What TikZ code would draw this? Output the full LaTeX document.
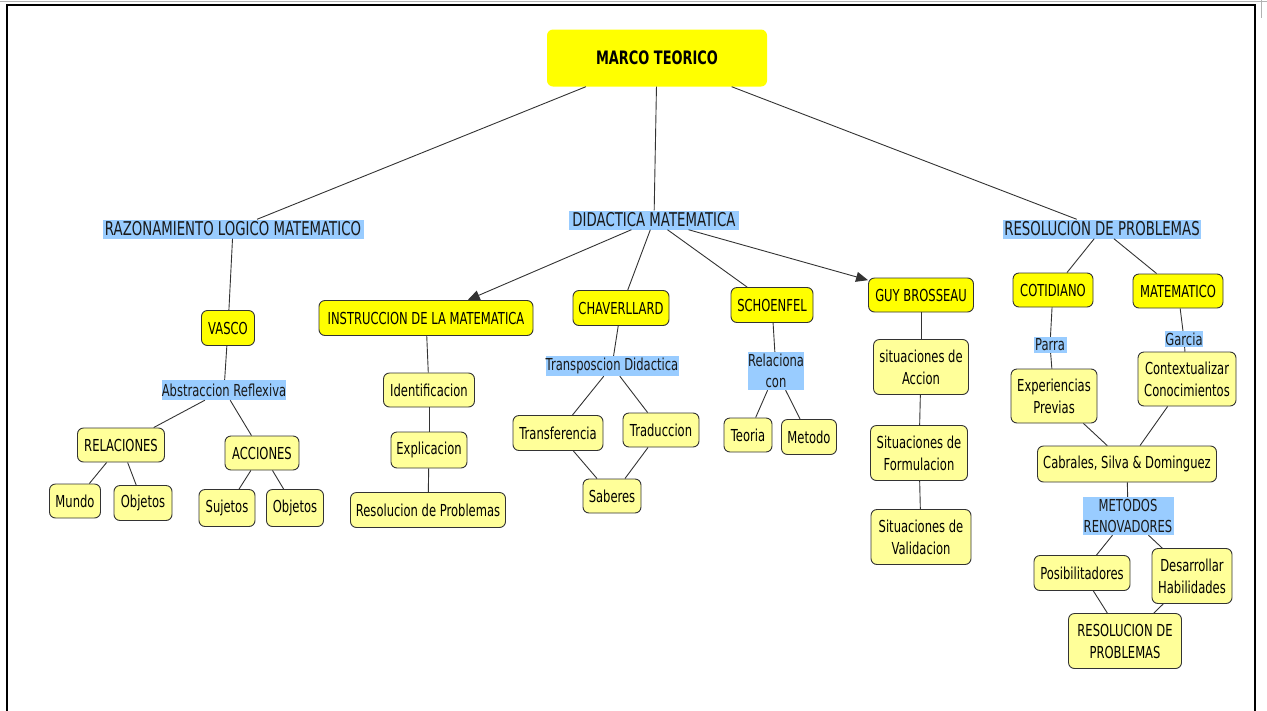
\documentclass[tikz,border=0pt]{standalone}
\usepackage{fontspec}
\setmainfont{DejaVu Sans}[FakeStretch=0.7]
\usetikzlibrary{arrows.meta}
\definecolor{ybright}{HTML}{FFFF00}
\definecolor{ylight}{HTML}{FFFF99}
\definecolor{lblue}{HTML}{99CCFF}
\definecolor{edgec}{HTML}{333333}
\tikzset{
  sz/.style 2 args={minimum width=#1pt, minimum height=#2pt},
  base/.style={rounded corners=6pt, draw=edgec, line width=0.9pt, inner sep=1pt, align=center,
     font=\fontsize{16.5}{22}\selectfont, text=black},
  yb/.style={base, fill=ybright},
  yl/.style={base, fill=ylight},
  lbl/.style={fill=lblue, inner sep=0pt, align=center, font=\fontsize{16.5}{21}\selectfont, text=black!90},
  biglbl/.style={fill=lblue, inner sep=0pt, align=center, font=\fontsize{19}{22}\selectfont, text=black!90},
  conn/.style={draw=edgec, line width=0.9pt},
  arr/.style={conn, -{Triangle[length=12pt,width=10pt]}},
}
\begin{document}
\begin{tikzpicture}[x=1pt,y=-1pt]
\useasboundingbox (0,0) rectangle (1267,710);
% frame
\draw[gray!60, line width=1pt] (0,1.5) -- (1267,1.5);
\draw[gray!60, line width=1pt] (1261,0) -- (1261,18);
\draw[black, line width=1.2pt] (7,720) -- (7,5) -- (1255,5) -- (1255,720);

% top
\node[fill=ybright, rounded corners=6pt, sz={220}{57}, font=\bfseries\fontsize{18.5}{20}\selectfont] (main) at (657,58) {MARCO TEORICO};
\node[biglbl, sz={261}{19}] (raz) at (233,229) {RAZONAMIENTO LOGICO MATEMATICO};
\node[biglbl, sz={170}{19}] (did) at (654,220) {DIDACTICA MATEMATICA};
\node[biglbl, sz={198}{19}] (res) at (1102,229) {RESOLUCION DE PROBLEMAS};

% left branch
\node[yb, sz={53}{35}] (vasco) at (228,328) {VASCO};
\node[lbl, sz={124}{20}] (abs) at (224,390) {Abstraccion Reflexiva};
\node[yl, sz={87}{34}] (rel) at (121,445) {RELACIONES};
\node[yl, sz={74}{34}] (acc) at (262,453) {ACCIONES};
\node[yl, sz={51}{34}] (mundo) at (75,501) {Mundo};
\node[yl, sz={58}{35}] (obja) at (143,503) {Objetos};
\node[yl, sz={56}{37}] (suj) at (227,508) {Sujetos};
\node[yl, sz={57}{37}] (objb) at (295,508) {Objetos};

% middle branch
\node[yb, sz={214}{35}] (instr) at (426,318) {INSTRUCCION DE LA MATEMATICA};
\node[yb, sz={96}{35}] (chav) at (621,308) {CHAVERLLARD};
\node[yb, sz={82}{35}] (schoen) at (772,305) {SCHOENFEL};
\node[yb, sz={105}{34}] (guy) at (921,295) {GUY BROSSEAU};
\node[yl, sz={91}{34}] (ident) at (429,390) {Identificacion};
\node[yl, sz={76}{36}] (expl) at (429,450) {Explicacion};
\node[yl, sz={155}{35}] (resol) at (428,510) {Resolucion de Problemas};
\node[lbl, sz={133}{20}] (transp) at (612,366) {Transposcion Didactica};
\node[yl, sz={90}{35}] (transf) at (558,433) {Transferencia};
\node[yl, sz={76}{34}] (trad) at (661,430) {Traduccion};
\node[yl, sz={58}{34}] (sab) at (612,496) {Saberes};
\node[lbl, sz={56}{38}] (relac) at (776,371) {Relaciona\\con};
\node[yl, sz={48}{34}] (teoria) at (748,435) {Teoria};
\node[yl, sz={55}{35}] (metodo) at (809,437) {Metodo};
\node[yl, sz={95}{55}] (sitacc) at (921,367) {situaciones de\\Accion};
\node[yl, sz={97}{55}] (sitform) at (919,453) {Situaciones de\\Formulacion};
\node[yl, sz={100}{55}] (sitval) at (921,537) {Situaciones de\\Validacion};

% right branch
\node[yb, sz={80}{34}] (cot) at (1053,290) {COTIDIANO};
\node[yb, sz={90}{34}] (mat) at (1178,291) {MATEMATICO};
\node[lbl, sz={33}{16}] (parra) at (1050,345) {Parra};
\node[lbl, sz={38}{16}] (garcia) at (1184,339) {Garcia};
\node[yl, sz={86}{54}] (expe) at (1054,396) {Experiencias\\Previas};
\node[yl, sz={98}{54}] (ctx) at (1187,379) {Contextualizar\\Conocimientos};
\node[yl, sz={179}{36}] (cab) at (1127,464) {Cabrales, Silva \& Dominguez};
\node[lbl, sz={91}{38}] (met) at (1128,516) {METODOS\\RENOVADORES};
\node[yl, sz={96}{35}] (posib) at (1082,573) {Posibilitadores};
\node[yl, sz={80}{55}] (desa) at (1192,576) {Desarrollar\\Habilidades};
\node[yl, sz={113}{55}] (resfin) at (1125,641) {RESOLUCION DE\\PROBLEMAS};

% connectors
\draw[conn] (main) -- (raz);
\draw[conn] (main) -- (did);
\draw[conn] (main) -- (res);

\draw[conn] (raz) -- (vasco);
\draw[conn] (vasco) -- (abs);
\draw[conn] (abs) -- (rel);
\draw[conn] (abs) -- (acc);
\draw[conn] (rel) -- (mundo);
\draw[conn] (rel) -- (obja);
\draw[conn] (acc) -- (suj);
\draw[conn] (acc) -- (objb);

\draw[arr] (did) -- (instr);
\draw[conn] (did) -- (chav);
\draw[conn] (did) -- (schoen);
\draw[arr] (did) -- (guy);
\draw[conn] (instr) -- (ident);
\draw[conn] (ident) -- (expl);
\draw[conn] (expl) -- (resol);
\draw[conn] (chav) -- (transp);
\draw[conn] (transp) -- (transf);
\draw[conn] (transp) -- (trad);
\draw[conn] (transf) -- (sab);
\draw[conn] (trad) -- (sab);
\draw[conn] (schoen) -- (relac);
\draw[conn] (relac) -- (teoria);
\draw[conn] (relac) -- (metodo);
\draw[conn] (guy) -- (sitacc);
\draw[conn] (sitacc) -- (sitform);
\draw[conn] (sitform) -- (sitval);

\draw[conn] (res) -- (cot);
\draw[conn] (res) -- (mat);
\draw[conn] (cot) -- (parra);
\draw[conn] (parra) -- (expe);
\draw[conn] (mat) -- (garcia);
\draw[conn] (garcia) -- (ctx);
\draw[conn] (expe) -- (cab);
\draw[conn] (ctx) -- (cab);
\draw[conn] (cab) -- (met);
\draw[conn] (met) -- (posib);
\draw[conn] (met) -- (desa);
\draw[conn] (posib) -- (resfin);
\draw[conn] (desa) -- (resfin);
\end{tikzpicture}
\end{document}
